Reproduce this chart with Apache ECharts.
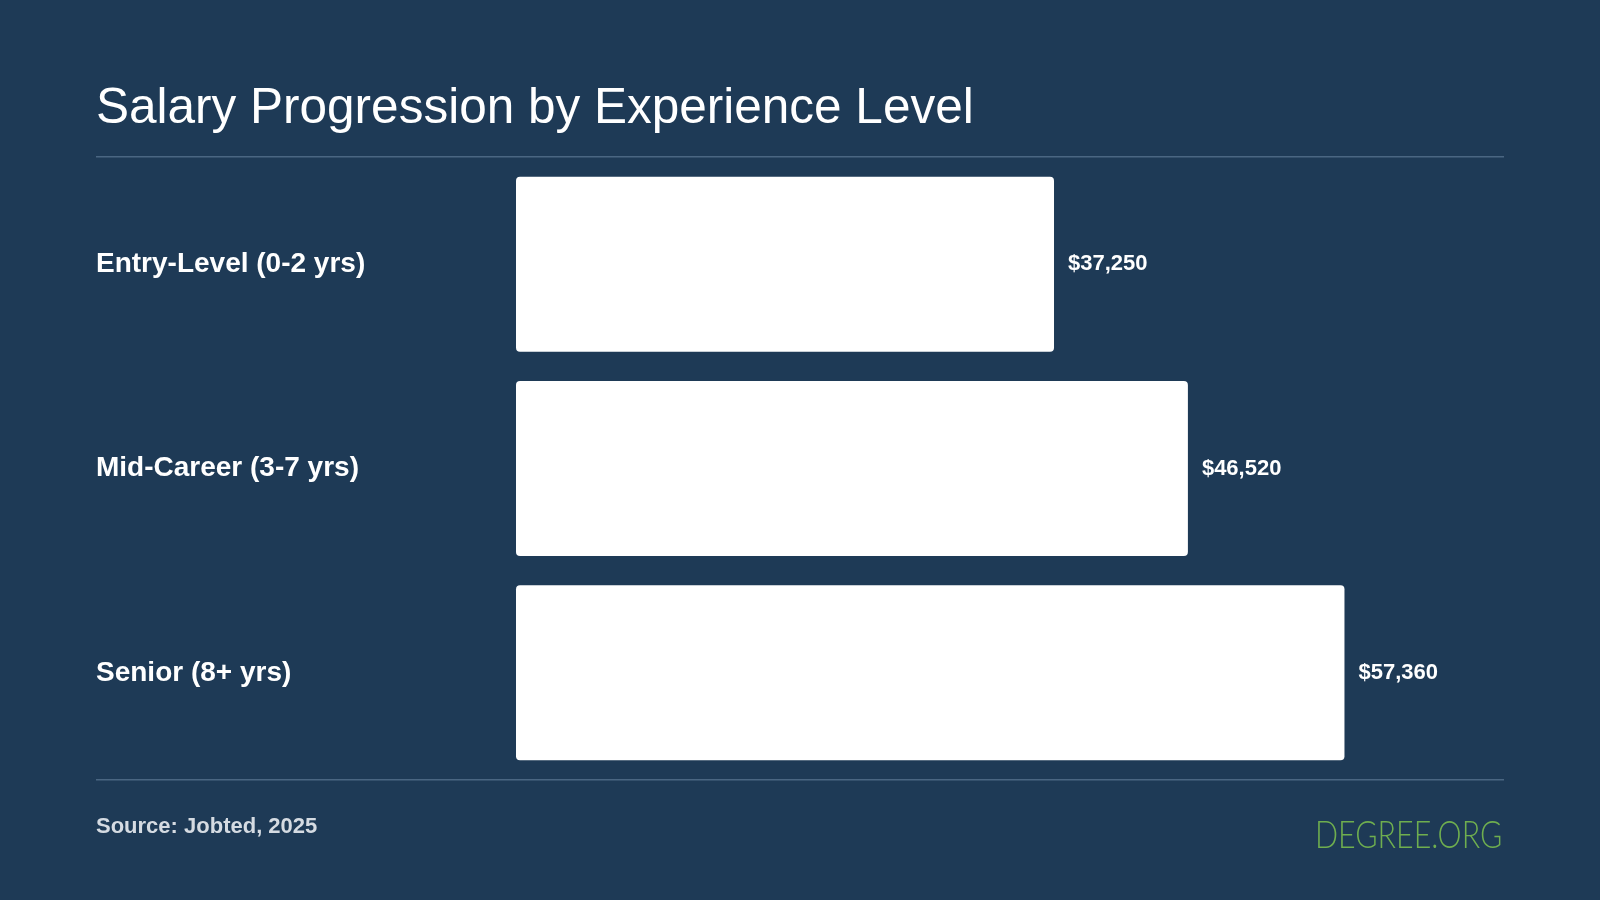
<!DOCTYPE html>
<html><head><meta charset="utf-8">
<script src="https://cdn.jsdelivr.net/npm/echarts@6/dist/echarts.min.js"></script>
<style>html,body{margin:0;padding:0;background:#1e3a56}#c{width:1600px;height:900px}</style>
</head><body><div id="c"></div>
<script>
const categories = ["Entry-Level (0-2 yrs)", "Mid-Career (3-7 yrs)", "Senior (8+ yrs)"];
const salaries = [37250, 46520, 57360];
const chart = echarts.init(document.getElementById('c'));
chart.setOption({
  backgroundColor: '#1e3a56',
  animation: false,
  title: {text: 'Salary Progression by Experience Level', left: 91, top: 79,
    textStyle: {color: '#fff', fontSize: 49.5, fontWeight: 'normal', fontFamily: 'Liberation Sans, Arial'}},
  grid: {left: 516, right: 217.4, top: 162, bottom: 125},
  xAxis: {type: 'value', min: 0, max: 60000, show: false},
  yAxis: {type: 'category', data: categories, inverse: true,
    axisLine: {show: false}, axisTick: {show: false},
    axisLabel: {color: '#fff', fontSize: 28, fontWeight: 'bold', fontFamily: 'Liberation Sans, Arial',
      align: 'left', margin: 420, padding: [5, 0, 0, 0]}},
  series: [{type: 'bar', data: salaries, barWidth: 175,
    itemStyle: {color: '#fff', borderRadius: 4},
    label: {show: true, position: 'right', distance: 14, color: '#fff', fontSize: 22, fontWeight: 'bold',
      fontFamily: 'Liberation Sans, Arial', padding: [5, 0, 0, 0],
      formatter: p => '$' + p.value.toLocaleString('en-US')}}],
  graphic: [
    {type: 'rect', shape: {x: 96, y: 156, width: 1408, height: 1.5}, style: {fill: '#4a6682'}},
    {type: 'rect', shape: {x: 96, y: 779, width: 1408, height: 1.5}, style: {fill: '#4a6682'}},
    {type: 'text', left: 96, top: 816, style: {text: 'Source: Jobted, 2025', fill: '#d5dbe2',
      font: 'bold 22px Liberation Sans, Arial'}},
    {type: 'text', x: 1315, y: 817, scaleX: 0.8, style: {text: 'DEGREE.ORG', fill: '#6fae4f',
      font: '300 38px Lato, sans-serif'}}
  ]
});
</script></body></html>
